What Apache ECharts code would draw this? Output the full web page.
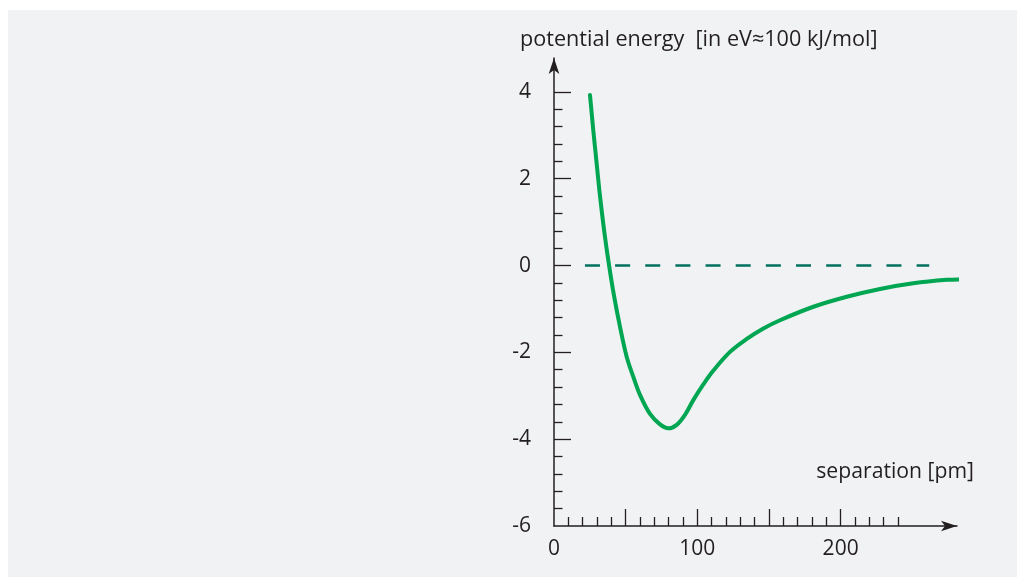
<!DOCTYPE html>
<html>
<head>
<meta charset="utf-8">
<script src="https://cdn.jsdelivr.net/npm/echarts@6/dist/echarts.min.js"></script>
<style>
  html, body { margin: 0; padding: 0; background: #ffffff; width: 1017px; height: 577px; overflow: hidden; }
  #chart { position: absolute; left: 8px; top: 10px; width: 1009px; height: 567px; }
</style>
</head>
<body>
<div id="chart"></div>
<script>
// ---- data ----
const curveX = [25.1, 27.4, 29.8, 32.1, 35.2, 38.4, 41.9, 46.1, 50.7, 55.3, 60.0, 67.0, 74.0, 79.8, 85.6, 91.4, 97.2, 104.2, 111.2, 122.8, 134.5, 146.1, 157.7, 181.0, 204.3, 227.5, 250.7, 274.0, 284.3];
const curveY = [3.93, 3.12, 2.34, 1.60, 0.75, 0.01, -0.70, -1.42, -2.10, -2.56, -2.98, -3.42, -3.66, -3.75, -3.67, -3.44, -3.10, -2.74, -2.42, -1.99, -1.69, -1.45, -1.26, -0.95, -0.72, -0.54, -0.41, -0.33, -0.32];
const zeroLineX = [21.6, 261.8];
const zeroLineY = [0, 0];
const xLabelValues = [0, 100, 200];
const xMajorTicks = [50, 100, 150, 200];
const xMinorTicks = [10, 20, 30, 40, 60, 70, 80, 90, 110, 120, 130, 140, 160, 170, 180, 190, 210, 220, 230, 240];
const yLabelValues = [-6, -4, -2, 0, 2, 4];
const yMajorTicks = [-4, -2, 0, 2, 4];
const yMinorTicks = [-5.6, -5.2, -4.8, -4.4, -3.6, -3.2, -2.8, -2.4, -1.6, -1.2, -0.8, -0.4, 0.4, 0.8, 1.2, 1.6, 2.4, 2.8, 3.2, 3.6];
const yTitle = 'potential energy  [in eV\u2248100 kJ/mol]';
const xTitle = 'separation [pm]';

// ---- layout ----
const GL = 546, GT = 48, GW = 403, GH = 468;
const XMIN = 0, XMAX = 281.2, YMIN = -6, YMAX = 4.78;
const AX = '#231f20';
const FONT = 'Open Sans';

const chart = echarts.init(document.getElementById('chart'), null, { renderer: 'canvas' });
chart.setOption({
  animation: false,
  backgroundColor: '#f1f2f4',
  grid: { left: GL, top: GT, width: GW, height: GH, containLabel: false },
  xAxis: [
    {
      type: 'value', min: XMIN, max: XMAX, position: 'bottom',
      axisLine: { show: true, onZero: false, symbol: ['none', 'arrow'], symbolSize: [8, 16], lineStyle: { color: AX, width: 1.5 } },
      axisTick: { show: true, inside: true, length: 9, customValues: xMinorTicks, lineStyle: { color: AX, width: 1.3 } },
      axisLabel: { show: true, customValues: xLabelValues, margin: 13, fontSize: 21, color: AX, fontFamily: FONT },
      splitLine: { show: false }
    },
    {
      type: 'value', min: XMIN, max: XMAX, position: 'top', offset: -GH,
      axisLine: { show: false, onZero: false },
      axisTick: { show: true, inside: false, length: 17, customValues: xMajorTicks, lineStyle: { color: AX, width: 1.3 } },
      axisLabel: { show: false },
      splitLine: { show: false }
    }
  ],
  yAxis: [
    {
      type: 'value', min: YMIN, max: YMAX, position: 'left',
      axisLine: { show: true, onZero: false, symbol: ['none', 'arrow'], symbolSize: [8, 16], lineStyle: { color: AX, width: 1.5 } },
      axisTick: { show: true, inside: true, length: 8.5, customValues: yMinorTicks, lineStyle: { color: AX, width: 1.3 } },
      axisLabel: { show: true, customValues: yLabelValues, margin: 23, fontSize: 21, color: AX, fontFamily: FONT },
      splitLine: { show: false }
    },
    {
      type: 'value', min: YMIN, max: YMAX, position: 'right', offset: -GW,
      axisLine: { show: false, onZero: false },
      axisTick: { show: true, inside: false, length: 17, customValues: yMajorTicks, lineStyle: { color: AX, width: 1.3 } },
      axisLabel: { show: false },
      splitLine: { show: false }
    }
  ],
  series: [
    {
      type: 'line', xAxisIndex: 0, yAxisIndex: 0,
      data: zeroLineX.map((x, i) => [x, zeroLineY[i]]),
      showSymbol: false, symbol: 'none', clip: false,
      lineStyle: { color: '#00705f', width: 2.7, type: [15, 15.15], cap: 'butt' },
      z: 2
    },
    {
      type: 'line', xAxisIndex: 0, yAxisIndex: 0,
      data: curveX.map((x, i) => [x, curveY[i]]),
      smooth: 0.35, showSymbol: false, symbol: 'none', clip: false,
      lineStyle: { color: '#00a651', width: 4, cap: 'round', join: 'round' },
      z: 3
    }
  ],
  graphic: [
    { type: 'text', left: 512, top: 19, style: { text: yTitle, fontSize: 21.6, fontFamily: FONT, fill: AX } },
    { type: 'text', right: 1009 - 966, top: 451, style: { text: xTitle, fontSize: 21.2, fontFamily: FONT, fill: AX } }
  ]
});
</script>
</body>
</html>
